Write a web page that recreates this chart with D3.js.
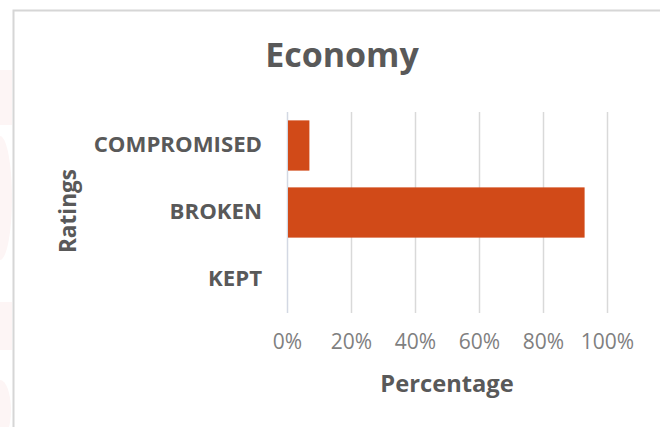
<!DOCTYPE html>
<html>
<head>
<meta charset="utf-8">
<script src="https://cdn.jsdelivr.net/npm/d3@7"></script>
<style>
  html, body { margin: 0; padding: 0; background: #ffffff; }
  svg { display: block; }
</style>
</head>
<body>
<svg id="chart" width="660" height="427"></svg>
<script>
// Rating categories, listed top to bottom
const categories = ["COMPROMISED", "BROKEN", "KEPT"];
// Share of promises per rating (fraction of total)
const shares = [0.07, 0.93, 0.0];
// Value-axis ticks
const tickValues = [0, 0.2, 0.4, 0.6, 0.8, 1.0];
const chartTitle = "Economy";
const xTitle = "Percentage";
const yTitle = "Ratings";

const data = categories.map((c, i) => ({ category: c, value: shares[i] }));

const svg = d3.select("#chart");
const W = 660, H = 427;
const plot = { left: 287, right: 607, top: 112, bottom: 313 };

const FONT = "'Open Sans', 'Liberation Sans', sans-serif";
const textDark = "#595959";
const textLight = "#7f7f7f";
const barColor = "#d14a18";

svg.append("rect").attr("width", W).attr("height", H).attr("fill", "#ffffff");

// faint slide backdrop showing at the far left edge
const backdrop = svg.append("g").attr("fill", "#fdf5f5");
backdrop.append("rect").attr("x", 0).attr("y", 70).attr("width", 12).attr("height", 55);
backdrop.append("ellipse").attr("cx", 0).attr("cy", 198).attr("rx", 12).attr("ry", 62);
backdrop.append("rect").attr("x", 0).attr("y", 302).attr("width", 12).attr("height", 48);
backdrop.append("ellipse").attr("cx", 0).attr("cy", 410).attr("rx", 11).attr("ry", 30);

// chart frame (top and left edges visible)
svg.append("path")
  .attr("d", `M13.5,${H} L13.5,10.5 L${W},10.5`)
  .attr("fill", "none")
  .attr("stroke", "#d6d6d6")
  .attr("stroke-width", 2);

const x = d3.scaleLinear().domain([0, 1]).range([plot.left, plot.right]);
const y = d3.scaleBand()
  .domain(categories)
  .range([plot.top, plot.bottom])
  .paddingInner(0.25)
  .paddingOuter(0.125);

// vertical gridlines
svg.append("g")
  .selectAll("line")
  .data(tickValues.filter(v => v > 0))
  .join("line")
  .attr("x1", d => Math.round(x(d)) + 0.5)
  .attr("x2", d => Math.round(x(d)) + 0.5)
  .attr("y1", plot.top)
  .attr("y2", plot.bottom)
  .attr("stroke", "#d9d9d9")
  .attr("stroke-width", 1.5);

// category axis line at 0%
svg.append("line")
  .attr("x1", x(0) + 0.5).attr("x2", x(0) + 0.5)
  .attr("y1", plot.top).attr("y2", plot.bottom)
  .attr("stroke", "#d3d8e3")
  .attr("stroke-width", 1.5);

// bars
svg.append("g")
  .selectAll("rect")
  .data(data.filter(d => d.value > 0))
  .join("rect")
  .attr("x", x(0) + 1)
  .attr("y", d => y(d.category))
  .attr("width", d => x(d.value) - x(0) - 1)
  .attr("height", y.bandwidth())
  .attr("fill", barColor);

// value axis labels
const xAxis = d3.axisBottom(x)
  .tickValues(tickValues)
  .tickFormat(d3.format(".0%"))
  .tickSize(0)
  .tickPadding(0);
const gx = svg.append("g")
  .attr("transform", `translate(0,${plot.bottom + 21})`)
  .call(xAxis);
gx.select(".domain").remove();
gx.selectAll("text")
  .attr("font-family", FONT)
  .attr("font-size", 21)
  .attr("fill", textLight)
  .attr("dy", "0.71em");

// category axis labels
const yAxis = d3.axisLeft(y).tickSize(0).tickPadding(0);
const gy = svg.append("g")
  .attr("transform", `translate(${plot.left - 25},0)`)
  .call(yAxis);
gy.select(".domain").remove();
gy.selectAll("text")
  .attr("font-family", FONT)
  .attr("font-size", 22.2)
  .attr("font-weight", "bold")
  .attr("fill", textDark)
  .attr("dy", "0.3em");

// chart title
svg.append("text")
  .attr("x", 342).attr("y", 67)
  .attr("text-anchor", "middle")
  .attr("font-family", FONT)
  .attr("font-size", 34)
  .attr("font-weight", "bold")
  .attr("fill", textDark)
  .text(chartTitle);

// value axis title
svg.append("text")
  .attr("x", (plot.left + plot.right) / 2).attr("y", 392)
  .attr("text-anchor", "middle")
  .attr("font-family", FONT)
  .attr("font-size", 23.7)
  .attr("font-weight", "bold")
  .attr("fill", textDark)
  .text(xTitle);

// category axis title
svg.append("text")
  .attr("transform", `translate(76,211) rotate(-90)`)
  .attr("text-anchor", "middle")
  .attr("font-family", FONT)
  .attr("font-size", 22.6)
  .attr("font-weight", "bold")
  .attr("fill", textDark)
  .text(yTitle);
</script>
</body>
</html>
